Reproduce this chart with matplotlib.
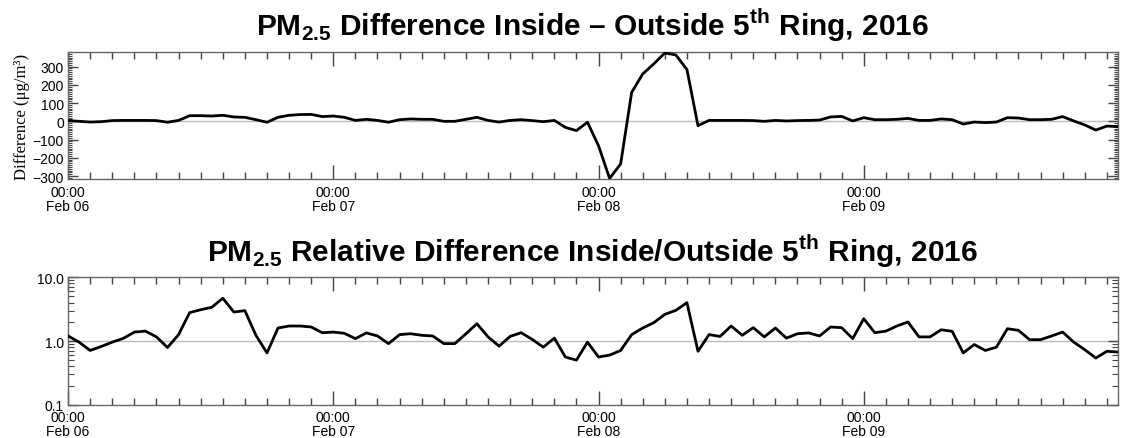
import matplotlib
matplotlib.use("Agg")
import matplotlib.pyplot as plt
from matplotlib.ticker import FixedLocator, MultipleLocator, LogLocator, NullFormatter, FixedFormatter

plt.rcParams['font.family'] = ['Liberation Sans', 'DejaVu Sans']
plt.rcParams['mathtext.fontset'] = 'custom'
plt.rcParams['mathtext.bf'] = 'Liberation Sans:bold'
plt.rcParams['mathtext.rm'] = 'Liberation Sans'

# Hours since 2016-02-06 00:00 (hourly data)
hours = list(range(96))

# PM2.5 difference inside - outside 5th ring (ug/m3)
difference = [4, 0, -4, -2, 4, 5, 5, 5, 4, -5,
              5, 31, 31, 29, 33, 24, 22, 9, -5, 22,
              33, 37, 38, 26, 29, 22, 5, 11, 5, -5,
              9, 13, 11, 11, 0, 0, 11, 22, 5, -4,
              5, 9, 4, -2, 5, -33, -51, -5, -134, -313,
              -234, 159, 260, 315, 375, 364, 284, -24, 5, 5,
              5, 5, 4, 0, 5, 2, 4, 5, 7, 24,
              27, 2, 20, 9, 9, 11, 16, 5, 5, 13,
              9, -15, -4, -7, -4, 20, 18, 9, 9, 11,
              26, 2, -20, -48, -26, -29]

# PM2.5 relative difference inside / outside 5th ring
relative = [1.2, 0.96, 0.71, 0.82, 0.96, 1.1, 1.38, 1.43, 1.16, 0.79,
            1.26, 2.79, 3.1, 3.38, 4.7, 2.85, 3.0, 1.23, 0.65, 1.6,
            1.72, 1.72, 1.66, 1.35, 1.38, 1.32, 1.09, 1.34, 1.2, 0.91,
            1.26, 1.3, 1.23, 1.2, 0.91, 0.91, 1.3, 1.87, 1.16, 0.83,
            1.18, 1.35, 1.06, 0.8, 1.11, 0.56, 0.5, 0.96, 0.56, 0.6,
            0.71, 1.26, 1.6, 1.94, 2.62, 3.03, 4.0, 0.69, 1.26, 1.18,
            1.72, 1.23, 1.62, 1.16, 1.6, 1.11, 1.3, 1.34, 1.2, 1.66,
            1.62, 1.09, 2.24, 1.35, 1.43, 1.72, 1.99, 1.16, 1.16, 1.5,
            1.42, 0.65, 0.88, 0.71, 0.8, 1.56, 1.47, 1.05, 1.05, 1.2,
            1.38, 0.96, 0.73, 0.54, 0.69, 0.67]

day_ticks = [0, 24, 48, 72]
day_labels = ["00:00\nFeb 06", "00:00\nFeb 07", "00:00\nFeb 08", "00:00\nFeb 09"]

title_top = r"PM$_{\mathbf{2.5}}$ Difference Inside – Outside 5$^{\mathbf{th}}$ Ring, 2016"
title_bot = r"PM$_{\mathbf{2.5}}$ Relative Difference Inside/Outside 5$^{\mathbf{th}}$ Ring, 2016"

fig = plt.figure(figsize=(11.23, 4.39), dpi=100)
ax1 = fig.add_axes([0.0606, 0.5893, 0.9349, 0.2907])
ax2 = fig.add_axes([0.0606, 0.0759, 0.9349, 0.2901])

frame_col = '#666666'
tick_col = '#444444'

def style_x(ax):
    ax.set_xlim(0, 95)
    ax.xaxis.set_major_locator(FixedLocator(day_ticks))
    ax.set_xticklabels(day_labels, fontsize=10, linespacing=1.0)
    ax.xaxis.set_minor_locator(MultipleLocator(2))
    ax.tick_params(axis='x', which='major', direction='in', length=10, width=1,
                   top=True, bottom=True, color=tick_col, pad=4)
    ax.tick_params(axis='x', which='minor', direction='in', length=5, width=1,
                   top=True, bottom=True, color=tick_col)
    for s in ax.spines.values():
        s.set_color(frame_col)
        s.set_linewidth(1.0)

# Top panel
ax1.axhline(0, color='#bbbbbb', lw=1.0, zorder=1)
ax1.plot(hours, difference, color='black', lw=2.0, zorder=3)
ax1.set_ylim(-318, 382)
ax1.yaxis.set_major_locator(MultipleLocator(100))
ax1.yaxis.set_minor_locator(MultipleLocator(10))
ax1.tick_params(axis='y', which='major', direction='in', length=7, width=1,
                left=True, right=True, color=tick_col, labelsize=10, pad=3)
ax1.tick_params(axis='y', which='minor', direction='in', length=3, width=0.8,
                left=True, right=True, color=tick_col)
style_x(ax1)
ax1.set_ylabel("Difference (μg/m³)", family=['Liberation Serif', 'DejaVu Serif'],
               fontsize=12, labelpad=2)
ax1.set_title(title_top, fontsize=21.5, fontweight='bold', pad=12)

# Bottom panel
ax2.set_yscale('log')
ax2.axhline(1.0, color='#bbbbbb', lw=1.0, zorder=1)
ax2.plot(hours, relative, color='black', lw=2.0, zorder=3)
ax2.set_ylim(0.1, 10)
ax2.yaxis.set_major_locator(FixedLocator([0.1, 1.0, 10.0]))
ax2.yaxis.set_major_formatter(FixedFormatter(["0.1", "1.0", "10.0"]))
ax2.yaxis.set_minor_locator(LogLocator(base=10, subs=range(2, 10)))
ax2.yaxis.set_minor_formatter(NullFormatter())
ax2.tick_params(axis='y', which='major', direction='in', length=7, width=1,
                left=True, right=True, color=tick_col, labelsize=10, pad=3)
ax2.tick_params(axis='y', which='minor', direction='in', length=4, width=0.8,
                left=True, right=True, color=tick_col)
style_x(ax2)
ax2.set_title(title_bot, fontsize=21.5, fontweight='bold', pad=11.5)

fig.savefig("out.png", dpi=100)
